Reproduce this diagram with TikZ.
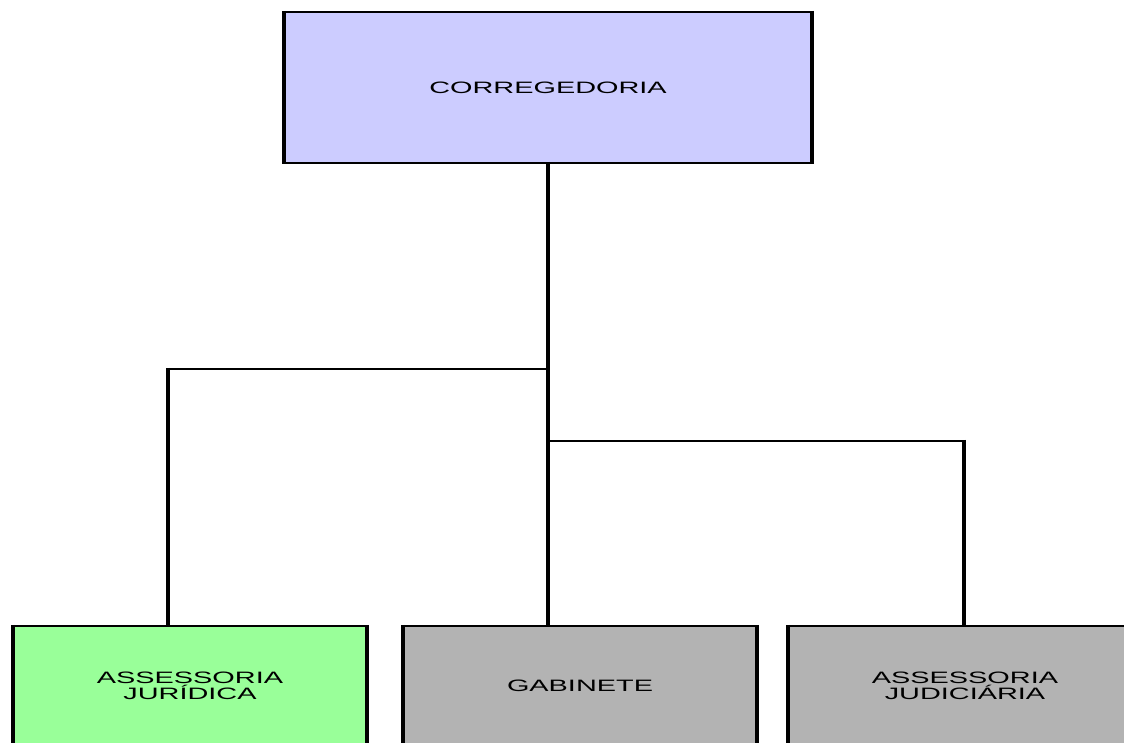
\documentclass[tikz,border=0pt]{standalone}
\usepackage{fontspec}
\setmainfont{Liberation Sans}[FakeStretch=1.75]
\definecolor{topblue}{HTML}{CCCCFF}
\definecolor{unitgreen}{HTML}{99FF99}
\definecolor{unitgray}{HTML}{B3B3B3}
\begin{document}
\begin{tikzpicture}[x=1pt,y=-1pt,
  unitbox/.style={rectangle, inner sep=0pt, outer sep=0pt, align=center,
    font=\fontsize{16.5pt}{16.5pt}\selectfont},
  hline/.style={line width=2.4pt, line cap=rect},
  vline/.style={line width=3.8pt, line cap=butt, shorten <=-1.2pt, shorten >=-1.2pt}]
\useasboundingbox (0,0) rectangle (1124,742);
\clip (0,0) rectangle (1124,742);
\fill[white] (0,0) rectangle (1124,742);

% units
\node[unitbox, fill=topblue, minimum width=528pt, minimum height=151pt] (cor) at (548,87.5) {CORREGEDORIA};
\node[unitbox, fill=unitgreen, minimum width=354pt, minimum height=120pt] (jur) at (190,686) {ASSESSORIA\\JURÍDICA};
\node[unitbox, fill=unitgray, minimum width=354pt, minimum height=120pt] (gab) at (580,686) {GABINETE};
\node[unitbox, fill=unitgray, minimum width=354pt, minimum height=120pt] (jud) at (965,686) {ASSESSORIA\\JUDICIÁRIA};

% box outlines
\foreach \n in {cor,jur,gab,jud}{
  \draw[hline] (\n.north west) -- (\n.north east);
  \draw[hline] (\n.south west) -- (\n.south east);
  \draw[vline] (\n.north west) -- (\n.south west);
  \draw[vline] (\n.north east) -- (\n.south east);
}

% connectors
\coordinate (jl) at (548,369);
\coordinate (kl) at (168,369);
\coordinate (jr) at (548,441);
\coordinate (kr) at (964,441);
\draw[vline] (cor.south) -- (gab.north -| cor.south);
\draw[hline] (jl) -- (kl);
\draw[vline] (kl) -- (kl |- jur.north);
\draw[hline] (jr) -- (kr);
\draw[vline] (kr) -- (kr |- jud.north);
\end{tikzpicture}
\end{document}
